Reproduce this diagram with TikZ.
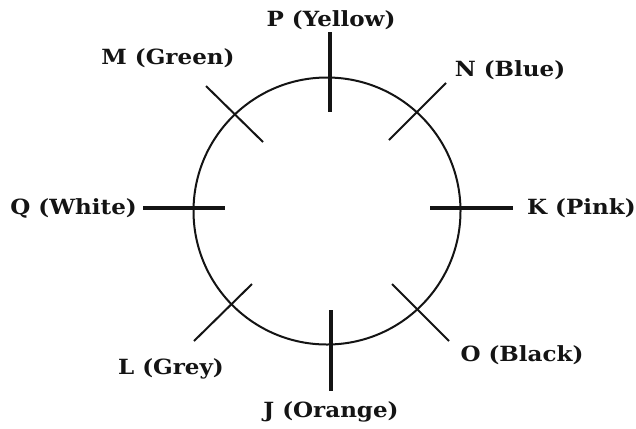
\documentclass[tikz,border=0pt]{standalone}
\usepackage{fontspec}
\setmainfont[FakeStretch=1.1]{DejaVu Serif}
\begin{document}
\begin{tikzpicture}[x=1bp,y=-1bp,
  lbl/.style={font=\bfseries\fontsize{21}{24}\selectfont, inner sep=0pt, text=black!92},
  axis/.style={line width=3.4bp, black!92},
  diag/.style={line width=2bp, black!92},
  rim/.style={line width=2bp, black!92}]
\useasboundingbox[fill=white] (0,0) rectangle (636,428);
% the round table
\coordinate (c) at (327,211);
\draw[rim] (c) circle[radius=133.5];
% seat marks on the four axes
\coordinate (p1) at (330,32);  \coordinate (p2) at (330,112);
\coordinate (j1) at (331,310); \coordinate (j2) at (331,391);
\coordinate (q1) at (143,208); \coordinate (q2) at (225,208);
\coordinate (k1) at (430,208); \coordinate (k2) at (513,208);
\draw[axis] (p1) -- (p2);
\draw[axis] (j1) -- (j2);
\draw[axis] (q1) -- (q2);
\draw[axis] (k1) -- (k2);
% seat marks on the diagonals
\coordinate (m1) at (206,86);  \coordinate (m2) at (263,142);
\coordinate (n1) at (446,83);  \coordinate (n2) at (389,140);
\coordinate (l1) at (194,341); \coordinate (l2) at (252,284);
\coordinate (o1) at (449,341); \coordinate (o2) at (392,284);
\draw[diag] (m1) -- (m2);
\draw[diag] (n1) -- (n2);
\draw[diag] (l1) -- (l2);
\draw[diag] (o1) -- (o2);
% names and colours
\node[lbl] (P) at (331,20) {P (Yellow)};
\node[lbl] (J) at (331,412) {J (Orange)};
\node[lbl, anchor=east] (Q) at (137,208) {Q (White)};
\node[lbl, anchor=west] (K) at (527,208) {K (Pink)};
\node[lbl] (M) at (168,58) {M (Green)};
\node[lbl] (N) at (510,70) {N (Blue)};
\node[lbl] (L) at (171,369) {L (Grey)};
\node[lbl] (O) at (522,355) {O (Black)};
\end{tikzpicture}
\end{document}
